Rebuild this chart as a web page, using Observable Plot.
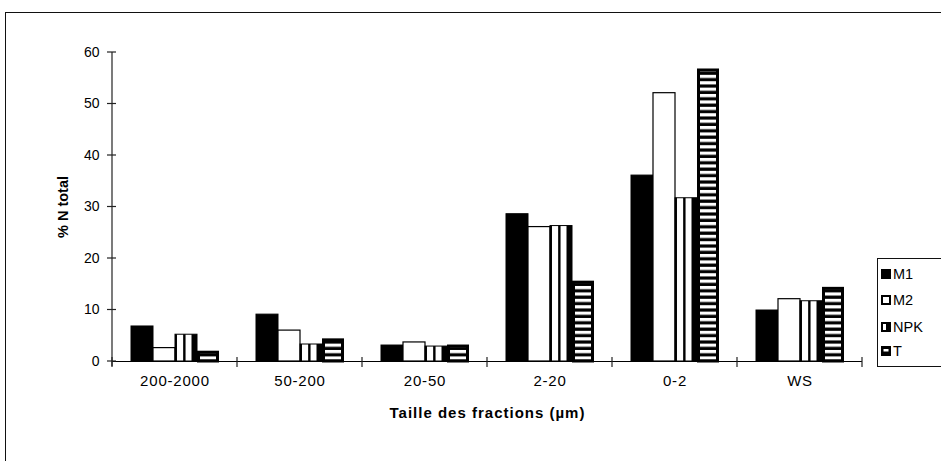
<!DOCTYPE html>
<html><head><meta charset="utf-8">
<script src="https://cdn.jsdelivr.net/npm/d3@7"></script>
<script src="https://cdn.jsdelivr.net/npm/@observablehq/plot@0.6"></script>
<style>
body{margin:0;background:#fff;font-family:"Liberation Sans",Arial,sans-serif;}
#wrap{position:relative;width:941px;height:461px;overflow:hidden;background:#fff;}
#frame{position:absolute;left:5px;top:12px;width:960px;height:480px;border-top:1.5px solid #111;border-left:1.5px solid #111;pointer-events:none;}
#chart{position:absolute;left:0;top:0;}
#legend{position:absolute;left:877px;top:258px;width:70px;height:107px;border:1px solid #111;background:#fff;}
.li{position:absolute;left:3px;height:16px;display:flex;align-items:center;font-size:14.5px;color:#000;}
.li svg{margin-right:2px;}
svg [aria-label="fx-axis label"] text, svg [aria-label="y-axis label"] text{font-weight:bold;}
</style>
</head><body>
<div id="wrap"><div id="chart"></div><div id="frame"></div><div id="legend"></div></div>
<script>
const groups = ["200-2000","50-200","20-50","2-20","0-2","WS"];
const series = ["M1","M2","NPK","T"];
const M1  = [6.8, 9.1, 3.1, 28.6, 36.1, 9.9];
const M2  = [2.6, 6.0, 3.7, 26.1, 52.1, 12.1];
const NPK = [5.2, 3.3, 2.9, 26.3, 31.7, 11.7];
const T   = [1.9, 4.3, 3.1, 15.5, 56.7, 14.3];
const yTicks = [0,10,20,30,40,50,60];
const yTitle = "% N total";
const xTitle = "Taille des fractions (µm)";

const values = {M1, M2, NPK, T};
const data = groups.flatMap((g,i)=>series.map(s=>({group:g, series:s, value:values[s][i]})));
const bar = (s, opts) => Plot.barY(data.filter(d=>d.series===s), {fx:"group", x:"series", y:"value", ...opts});

const plot = Plot.plot({
  width: 941, height: 461,
  marginLeft: 112, marginRight: 79, marginTop: 52, marginBottom: 100,
  style: {fontFamily: "'Liberation Sans', Arial, sans-serif", fontSize: "13px", color: "#000", background: "transparent"},
  fx: {domain: groups, padding: 0, label: null},
  x: {domain: series, paddingInner: 0, paddingOuter: 0.72, axis: null},
  y: {domain: [0, 60]},
  marks: [
    bar("M1", {fill: "#000", stroke: "#000", strokeWidth: 1}),
    bar("M2", {fill: "#fff", stroke: "#000", strokeWidth: 1.2}),
    bar("NPK", {fill: "url(#pat-npk)", stroke: "#000", strokeWidth: 1}),
    bar("T", {fill: "url(#pat-t)", stroke: "#000", strokeWidth: 3, insetLeft: 1.5, insetRight: 1.5, insetTop: 1}),
    Plot.ruleY([0], {stroke: "#000", strokeWidth: 1.2}),
    Plot.axisFx({anchor: "bottom", tickSize: 0, tickPadding: 14, fontSize: 15, label: xTitle, labelAnchor: "center", labelOffset: 56}),
    Plot.axisY({ticks: yTicks, tickSize: 0, tickPadding: 13, fontSize: 14, label: yTitle, labelAnchor: "center", labelArrow: "none", labelOffset: 55})
  ]
});
document.getElementById("chart").appendChild(plot);

const svg = d3.select(plot);
svg.selectAll('[aria-label="fx-axis tick label"] text').style("letter-spacing","0.8px");
svg.selectAll('[aria-label="fx-axis label"] text').style("letter-spacing","1px").style("font-size","15px");
svg.selectAll('[aria-label="y-axis label"] text').style("font-size","14.5px");

const yS = plot.scale("y"), fxS = plot.scale("fx");
const y0 = yS.apply(0);
const defs = svg.insert("defs", ":first-child");
const npk = defs.append("pattern").attr("id","pat-npk").attr("patternUnits","objectBoundingBox")
  .attr("patternContentUnits","objectBoundingBox").attr("width",1).attr("height",1);
npk.append("rect").attr("width",1).attr("height",1).attr("fill","#000");
npk.append("rect").attr("x",0.09).attr("width",0.28).attr("height",1).attr("fill","#fff");
npk.append("rect").attr("x",0.48).attr("width",0.27).attr("height",1).attr("fill","#fff");
const pt = defs.append("pattern").attr("id","pat-t").attr("patternUnits","userSpaceOnUse")
  .attr("x",0).attr("y",y0).attr("width",40).attr("height",6.4);
pt.append("rect").attr("width",40).attr("height",6.4).attr("fill","#000");
pt.append("rect").attr("y",1.8).attr("width",40).attr("height",3.2).attr("fill","#fff");

// axis line and ticks from the scales
const g = svg.append("g").attr("stroke","#222").attr("stroke-width",1.2);
const xl = fxS.range[0];
g.append("line").attr("x1",xl).attr("x2",xl).attr("y1",yS.apply(60)).attr("y2",y0+5);
yTicks.forEach(t=>{ const yy=yS.apply(t); g.append("line").attr("x1",xl-5).attr("x2",xl+4).attr("y1",yy).attr("y2",yy); });
const bounds = groups.map(k=>fxS.apply(k)).concat([fxS.apply(groups[groups.length-1])+fxS.bandwidth]);
bounds.forEach(b=>g.append("line").attr("x1",b).attr("x2",b).attr("y1",y0-4).attr("y2",y0+6));

// legend
const leg = document.getElementById("legend");
const sw = {
  M1: '<rect x="0.5" y="0.5" width="9" height="9" fill="#000" stroke="#000"/>',
  M2: '<rect x="1" y="1" width="8" height="8" fill="#fff" stroke="#000" stroke-width="2"/>',
  NPK: '<rect x="0.5" y="0.5" width="9" height="9" fill="#000" stroke="#000"/><rect x="2" y="2" width="3" height="6" fill="#fff"/>',
  T: '<rect x="0.5" y="0.5" width="9" height="9" fill="#000" stroke="#000"/><rect x="2.5" y="3" width="5" height="2.5" fill="#fff"/>'
};
const legTop = [7, 33, 60, 84];
series.forEach((s,i)=>{
  const d = document.createElement("div");
  d.className = "li"; d.style.top = legTop[i]+"px";
  d.innerHTML = `<svg width="10" height="10">${sw[s]}</svg><span>${s}</span>`;
  leg.appendChild(d);
});
</script>
</body></html>
